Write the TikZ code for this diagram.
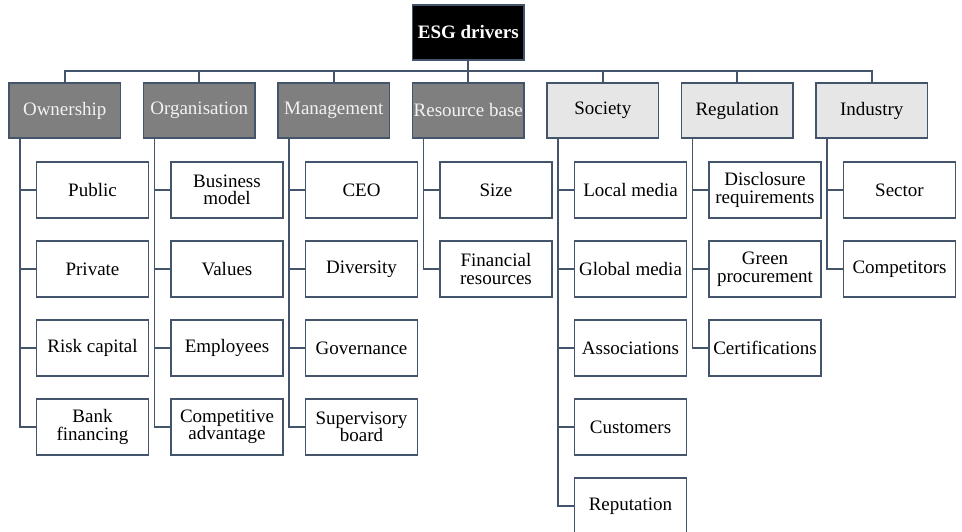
\documentclass[tikz,border=0pt]{standalone}
\usepackage{fontspec}
\setmainfont{Liberation Serif}
\usepackage{tikz}
\usetikzlibrary{positioning}
\definecolor{slate}{HTML}{44546A}
\definecolor{darkfill}{HTML}{7F7F7F}
\definecolor{lightfill}{HTML}{E7E6E6}
\tikzset{
    box/.style={draw=slate, line width=1.8pt, inner sep=0pt, outer sep=0pt, align=center,
        minimum width=111.5pt, minimum height=55pt, font=\fontsize{19}{17.5}\selectfont},
    inner driver/.style={box, fill=darkfill, text=white!95!black},
    outer driver/.style={box, fill=lightfill},
    item/.style={box, fill=white, minimum width=112pt, minimum height=56pt},
    link/.style={draw=slate, line width=1.8pt}
}

\begin{document}
\begin{tikzpicture}[x=1pt, y=-1pt]
    \path[use as bounding box, clip] (0,0) rectangle (962,532);
    % top
    \node[box, fill=black, text=white, font=\fontsize{19}{17.5}\selectfont\bfseries] (esg) at (468.25,32.5) {ESG drivers};
    \coordinate (bus) at (468.25,71);
    % drivers
    \node[inner driver] (own) at (64.75,110.5) {Ownership};
    \node[inner driver] (org) at (199.25,110.5) {Organisation};
    \node[inner driver] (man) at (333.75,110.5) {Management};
    \node[inner driver] (res) at (468.25,110.5) {Resource base};
    \node[outer driver] (soc) at (602.75,110.5) {Society};
    \node[outer driver] (reg) at (737.25,110.5) {Regulation};
    \node[outer driver] (ind) at (871.75,110.5) {Industry};
    % items
    \node[item] (own1) at (92.5,190) {Public};
    \node[item] (own2) at (92.5,269) {Private};
    \node[item] (own3) at (92.5,348) {Risk capital};
    \node[item] (own4) at (92.5,427) {Bank\\financing};
    \node[item] (org1) at (227,190) {Business\\model};
    \node[item] (org2) at (227,269) {Values};
    \node[item] (org3) at (227,348) {Employees};
    \node[item] (org4) at (227,427) {Competitive\\advantage};
    \node[item] (man1) at (361.5,190) {CEO};
    \node[item] (man2) at (361.5,269) {Diversity};
    \node[item] (man3) at (361.5,348) {Governance};
    \node[item] (man4) at (361.5,427) {Supervisory\\board};
    \node[item] (res1) at (496,190) {Size};
    \node[item] (res2) at (496,269) {Financial\\resources};
    \node[item] (soc1) at (630.5,190) {Local media};
    \node[item] (soc2) at (630.5,269) {Global media};
    \node[item] (soc3) at (630.5,348) {Associations};
    \node[item] (soc4) at (630.5,427) {Customers};
    \node[item] (soc5) at (630.5,506) {Reputation};
    \node[item] (reg1) at (765,190) {Disclosure\\requirements};
    \node[item] (reg2) at (765,269) {Green\\procurement};
    \node[item] (reg3) at (765,348) {Certifications};
    \node[item] (ind1) at (899.5,190) {Sector};
    \node[item] (ind2) at (899.5,269) {Competitors};
    % links
    \draw[link] (esg.south) -- (bus);
    \foreach \d in {own,org,man,res,soc,reg,ind}
        \draw[link] (\d.north) |- (bus);
    \foreach \i in {1,...,4} {
        \draw[link] ([xshift=11pt]own.south west) |- (own\i.west);
        \draw[link] ([xshift=11pt]org.south west) |- (org\i.west);
        \draw[link] ([xshift=11pt]man.south west) |- (man\i.west);
    }
    \foreach \i in {1,...,5}
        \draw[link] ([xshift=11pt]soc.south west) |- (soc\i.west);
    \foreach \i in {1,...,3}
        \draw[link] ([xshift=11pt]reg.south west) |- (reg\i.west);
    \foreach \i in {1,2} {
        \draw[link] ([xshift=11pt]res.south west) |- (res\i.west);
        \draw[link] ([xshift=11pt]ind.south west) |- (ind\i.west);
    }
\end{tikzpicture}
\end{document}
